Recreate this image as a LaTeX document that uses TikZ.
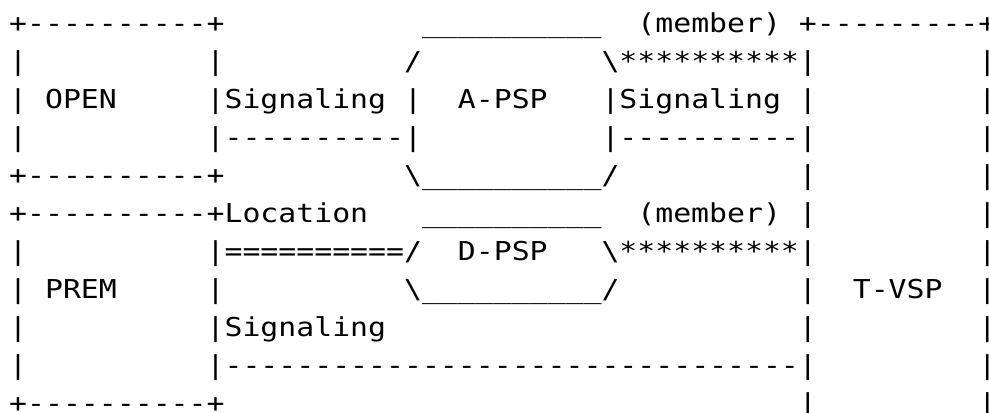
\documentclass[tikz,border=0pt]{standalone}
\usepackage{fontspec}
\setmonofont[FakeStretch=1.1467]{DejaVu Sans Mono}

\newlength\cw
\AtBeginDocument{\settowidth\cw{\ttfamily\fontsize{26}{38}\selectfont M}}
% n blank columns, a backslash, ten underscores
\newcommand\blank[1]{\hspace*{#1\cw}}
\newcommand\bs{\textbackslash}
\newcommand\lowline{\_\_\_\_\_\_\_\_\_\_}

\tikzset{asciirow/.style={anchor=base west, inner sep=0pt, font=\ttfamily\fontsize{26}{38}\selectfont}}

\begin{document}
\begin{tikzpicture}[x=17.95pt,y=38pt]
   \useasboundingbox (-0.5014,-10) rectangle (54.596,0.868);
   \clip (-0.5014,-10) rectangle (54.596,0.868);
   % one node per text row, columns counted from the left edge of OPEN/PREM
   \node[asciirow] (top)      at (0,0)   {+----------+\blank{11}\lowline\blank{2}(member)\blank{1}+---------+};
   \node[asciirow] (apsptop)  at (0,-1)  {|\blank{10}|\blank{10}/\blank{10}\bs**********|\blank{9}|};
   \node[asciirow] (open)     at (0,-2)  {|\blank{1}OPEN\blank{5}|Signaling\blank{1}|\blank{2}A-PSP\blank{3}|Signaling\blank{1}|\blank{9}|};
   \node[asciirow] (opensig)  at (0,-3)  {|\blank{10}|----------|\blank{10}|----------|\blank{9}|};
   \node[asciirow] (openbase) at (0,-4)  {+----------+\blank{10}\bs\lowline/\blank{10}|\blank{9}|};
   \node[asciirow] (location) at (0,-5)  {+----------+Location\blank{3}\lowline\blank{2}(member)\blank{1}|\blank{9}|};
   \node[asciirow] (dpsp)     at (0,-6)  {|\blank{10}|==========/\blank{2}D-PSP\blank{3}\bs**********|\blank{9}|};
   \node[asciirow] (prem)     at (0,-7)  {|\blank{1}PREM\blank{5}|\blank{10}\bs\lowline/\blank{10}|\blank{2}T-VSP\blank{2}|};
   \node[asciirow] (premsig)  at (0,-8)  {|\blank{10}|Signaling\blank{23}|\blank{9}|};
   \node[asciirow] (sigline)  at (0,-9)  {|\blank{10}|--------------------------------|\blank{9}|};
   \node[asciirow] (base)     at (0,-10) {+----------+\blank{32}|\blank{9}|};
\end{tikzpicture}
\end{document}
